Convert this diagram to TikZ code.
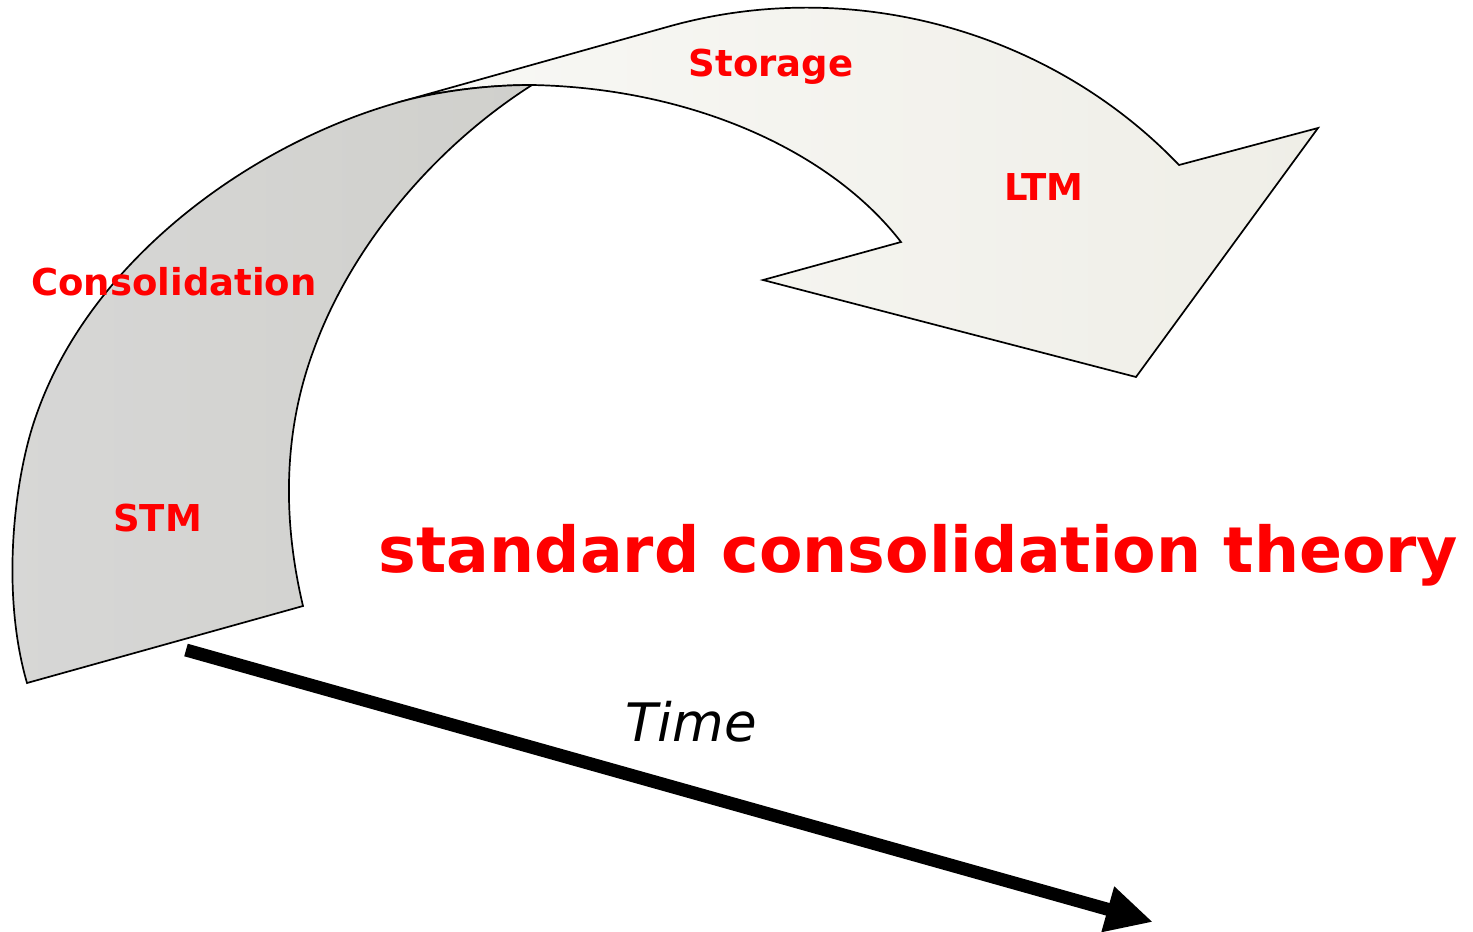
\documentclass[tikz,border=0pt]{standalone}
\usepackage{fontspec}
\setmainfont{DejaVu Sans}
\usetikzlibrary{arrows.meta}
\definecolor{rearleft}{HTML}{F8F8F5}
\definecolor{rearright}{HTML}{EFEEE7}
\definecolor{frontleft}{HTML}{D7D7D6}
\definecolor{frontright}{HTML}{D0D0CC}
\begin{document}
\begin{tikzpicture}[x=1pt,y=-1pt,
  band/.style={draw=black, line width=1.7pt, line join=miter},
  lbl/.style={text=red, font=\fontsize{37}{37}\selectfont\bfseries, inner sep=0pt, anchor=base},
  headline/.style={text=red, font=\fontsize{63.4}{64}\selectfont\bfseries, inner sep=0pt, anchor=base},
  axislbl/.style={text=black, font=\fontsize{53}{53}\selectfont\itshape, inner sep=0pt, anchor=base},
  timearrow/.style={line width=13pt, -{Triangle[length=47pt,width=44pt]}}
]
\useasboundingbox (0,0) rectangle (1473,932);

% rear band: the bent arrow carrying memory into storage
\path[band, left color=rearleft, right color=rearright]
  (396,103) -- (667,27)
  .. controls (850,-25) and (1050,30) .. (1179,165)
  -- (1318,128) -- (1136,377) -- (763,280) -- (901,242)
  .. controls (830,150) and (690,88) .. (532,85)
  .. controls (480,85) and (430,93) .. (396,103) -- cycle;

% front band: the rising short-term part
\path[band, left color=frontleft, right color=frontright]
  (27,683) -- (303,606)
  .. controls (285,530) and (280,440) .. (314,349)
  .. controls (350,250) and (430,150) .. (532,85)
  .. controls (480,85) and (430,93) .. (396,103)
  .. controls (250,145) and (90,260) .. (36,416)
  .. controls (15,475) and (0,590) .. (27,683) -- cycle;

% time axis
\coordinate (tstart) at (186,650);
\coordinate (tend) at (1153,922);
\draw[timearrow] (tstart) -- (tend);

% labels
\node[lbl] (storage) at (771,76) {Storage};
\node[lbl] (ltm) at (1044,200.7) {LTM};
\node[lbl] (consol) at (174,295) {Consolidation};
\node[lbl] (stm) at (157.5,531.7) {STM};
\node[headline] (theory) at (918.5,572.7) {standard consolidation theory};
\node[axislbl] (time) at (691,741.7) {Time};
\end{tikzpicture}
\end{document}
